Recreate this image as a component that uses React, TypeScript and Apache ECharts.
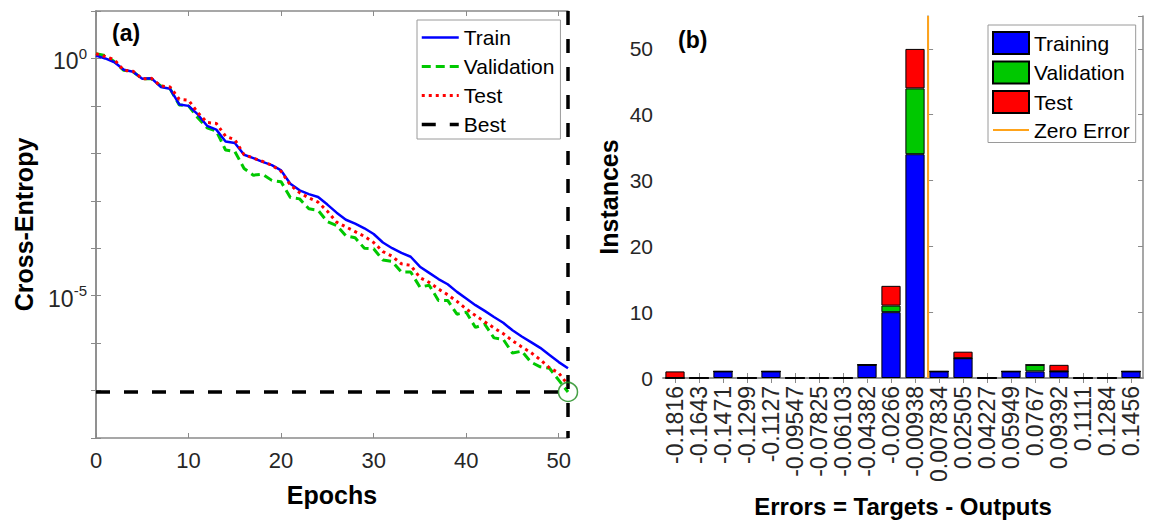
import React, { useEffect, useRef } from "react";
import * as echarts from "echarts";

// ---------- Panel (a): performance (log10 of cross-entropy per epoch) ----------
const trainLog = [0.06, 0.0, -0.08, -0.24, -0.28, -0.43, -0.42, -0.6, -0.64, -0.97, -1.0, -1.18, -1.42, -1.5, -1.75, -1.78, -2.03, -2.1, -2.18, -2.25, -2.36, -2.64, -2.78, -2.86, -2.92, -3.08, -3.25, -3.4, -3.48, -3.58, -3.7, -3.88, -4.0, -4.1, -4.18, -4.39, -4.52, -4.65, -4.76, -4.92, -5.06, -5.2, -5.32, -5.45, -5.57, -5.73, -5.86, -5.98, -6.1, -6.25, -6.4, -6.53];
const validationLog = [0.1, 0.06, -0.07, -0.25, -0.28, -0.43, -0.43, -0.58, -0.64, -0.98, -1.0, -1.25, -1.46, -1.53, -1.93, -1.96, -2.32, -2.46, -2.44, -2.57, -2.6, -2.93, -2.96, -3.17, -3.2, -3.44, -3.52, -3.74, -3.78, -4.0, -4.01, -4.25, -4.28, -4.5, -4.5, -4.82, -4.78, -5.1, -5.1, -5.39, -5.35, -5.67, -5.6, -5.89, -5.92, -6.21, -6.17, -6.4, -6.5, -6.53, -6.78, -7.03];
const testLog = [0.1, 0.04, -0.03, -0.25, -0.27, -0.43, -0.42, -0.58, -0.6, -0.86, -0.88, -1.14, -1.35, -1.37, -1.64, -1.71, -2.03, -2.1, -2.17, -2.25, -2.38, -2.67, -2.83, -2.94, -3.03, -3.22, -3.45, -3.55, -3.65, -3.75, -3.88, -4.07, -4.17, -4.33, -4.36, -4.62, -4.72, -4.86, -4.98, -5.12, -5.28, -5.42, -5.55, -5.68, -5.8, -5.95, -6.08, -6.2, -6.35, -6.52, -6.63, -6.88];
const bestEpoch = 51;
const bestLog = -7.03;
const epochMax = 51;
const logMin = 1e-8;
const logMax = 10;

// ---------- Panel (b): error histogram ----------
const binLabels = ["-0.1816", "-0.1643", "-0.1471", "-0.1299", "-0.1127", "-0.09547", "-0.07825", "-0.06103", "-0.04382", "-0.0266", "-0.00938", "0.007834", "0.02505", "0.04227", "0.05949", "0.0767", "0.09392", "0.1111", "0.1284", "0.1456"];
const trainingCounts = [0, 0, 1, 0, 1, 0, 0, 0, 2, 10, 34, 1, 3, 0, 1, 1, 1, 0, 0, 1];
const validationCounts = [0, 0, 0, 0, 0, 0, 0, 0, 0, 1, 10, 0, 0, 0, 0, 1, 0, 0, 0, 0];
const testCounts = [1, 0, 0, 0, 0, 0, 0, 0, 0, 3, 6, 0, 1, 0, 0, 0, 1, 0, 0, 0];
const zeroError = 0;
const instancesMax = 55;

const FONT = "'Liberation Sans', Arial, sans-serif";
const AXIS_GRAY = "#8a8a8a";
const TICK_TEXT = "#262626";

export default function App() {
  const ref = useRef<HTMLDivElement>(null);

  useEffect(() => {
    if (!ref.current) return;
    const chart = echarts.init(ref.current, null, { renderer: "svg" });

    const toPts = (arr: number[]) => arr.map((v, i) => [i, Math.pow(10, v)]);
    const bestVal = Math.pow(10, bestLog);

    const firstBin = parseFloat(binLabels[0]);
    const lastBin = parseFloat(binLabels[binLabels.length - 1]);
    const binW = (lastBin - firstBin) / (binLabels.length - 1);

    const axisLine = { show: true, lineStyle: { color: AXIS_GRAY, width: 1.5 } };
    const tickIn = { show: true, inside: true, length: 5, lineStyle: { color: AXIS_GRAY, width: 1 } };
    const noSymbol = { opacity: 0 };

    const option: any = {
      animation: false,
      backgroundColor: "#fff",
      textStyle: { fontFamily: FONT },
      grid: [
        { left: 96, top: 11, width: 472, height: 427 },
        { left: 663, top: 16, width: 480, height: 367 },
      ],
      xAxis: [
        {
          gridIndex: 0, type: "value", min: 0, max: epochMax, interval: 10, position: "bottom",
          axisLine, axisTick: tickIn, splitLine: { show: false },
          axisLabel: { fontSize: 22, color: TICK_TEXT, margin: 11, showMaxLabel: false, fontFamily: FONT },
          name: "Epochs", nameLocation: "middle", nameGap: 44,
          nameTextStyle: { fontSize: 25, fontWeight: "bold", color: "#000", fontFamily: FONT },
        },
        {
          gridIndex: 0, type: "value", min: 0, max: epochMax, interval: 10, position: "top",
          axisLine, axisTick: tickIn, splitLine: { show: false }, axisLabel: { show: false },
        },
        {
          gridIndex: 1, type: "category", data: binLabels, position: "bottom",
          axisLine, axisTick: { ...tickIn, alignWithLabel: true, interval: 0 },
          axisLabel: { rotate: 90, interval: 0, fontSize: 23, color: TICK_TEXT, margin: 8, fontFamily: FONT },
          name: "Errors = Targets - Outputs", nameLocation: "middle", nameGap: 116,
          nameTextStyle: { fontSize: 24, fontWeight: "bold", color: "#000", fontFamily: FONT },
        },
        {
          gridIndex: 1, type: "category", data: binLabels, position: "top",
          axisLine, axisTick: { ...tickIn, alignWithLabel: true, interval: 0 }, axisLabel: { show: false },
        },
        {
          gridIndex: 1, type: "value", min: firstBin - binW / 2, max: lastBin + binW / 2, show: false,
        },
      ],
      yAxis: [
        {
          gridIndex: 0, type: "log", logBase: 10, min: logMin, max: logMax, position: "left",
          axisLine, axisTick: tickIn, splitLine: { show: false }, minorTick: { show: false },
          axisLabel: {
            margin: 9,
            formatter: (v: number) => {
              const l = Math.log10(v);
              const e = Math.round(l);
              if (Math.abs(l - e) > 1e-6) return "";
              if (e === 0) return "{b|10}{s|0}";
              if (e === -5) return "{b|10}{s|-5}";
              return "";
            },
            rich: {
              b: { fontSize: 23, color: TICK_TEXT, fontFamily: FONT, padding: [6, 0, 0, 0] },
              s: { fontSize: 15, color: TICK_TEXT, fontFamily: FONT, padding: [0, 0, 10, 0] },
            },
          },
          name: "Cross-Entropy", nameLocation: "middle", nameGap: 60,
          nameTextStyle: { fontSize: 25, fontWeight: "bold", color: "#000", fontFamily: FONT },
        },
        {
          gridIndex: 0, type: "log", logBase: 10, min: logMin, max: logMax, position: "right",
          axisLine, axisTick: tickIn, splitLine: { show: false }, axisLabel: { show: false },
        },
        {
          gridIndex: 1, type: "value", min: 0, max: instancesMax, interval: 10, position: "left",
          axisLine, axisTick: tickIn, splitLine: { show: false },
          axisLabel: { fontSize: 21, color: TICK_TEXT, margin: 10, showMaxLabel: false, fontFamily: FONT },
          name: "Instances", nameLocation: "middle", nameGap: 42,
          nameTextStyle: { fontSize: 25, fontWeight: "bold", color: "#000", fontFamily: FONT },
        },
        {
          gridIndex: 1, type: "value", min: 0, max: instancesMax, interval: 10, position: "right",
          axisLine, axisTick: tickIn, splitLine: { show: false }, axisLabel: { show: false },
        },
      ],
      legend: [
        {
          data: ["Train", "Validation", "Test", "Best"],
          orient: "vertical", left: 417, top: 20,
          itemWidth: 37, itemHeight: 14, itemGap: 8,
          itemStyle: noSymbol,
          lineStyle: { width: "inherit" },
          textStyle: { fontSize: 21, color: "#000", fontFamily: FONT, lineHeight: 20 },
          borderColor: "#9a9a9a", borderWidth: 1, borderRadius: 0, backgroundColor: "#fff",
          padding: [7, 6, 4, 3],
        },
        {
          data: [
            { name: "Training", icon: "rect" },
            { name: "Validation_b", icon: "rect" },
            { name: "Test_b", icon: "rect" },
            { name: "Zero Error", itemStyle: noSymbol },
          ],
          formatter: (n: string) => n.replace("_b", ""),
          orient: "vertical", left: 988, top: 25,
          itemWidth: 36, itemHeight: 22, itemGap: 5.5,
          lineStyle: { width: "inherit" },
          textStyle: { fontSize: 21, color: "#000", fontFamily: FONT },
          borderColor: "#9a9a9a", borderWidth: 1, borderRadius: 0, backgroundColor: "#fff",
          padding: [6, 6, 2, 4],
        },
      ],
      graphic: [
        { type: "text", left: 112, top: 21, style: { text: "(a)", font: `bold 23px ${FONT}`, fill: "#000" } },
        { type: "text", left: 678, top: 28, style: { text: "(b)", font: `bold 23px ${FONT}`, fill: "#000" } },
      ],
      series: [
        {
          name: "Train", type: "line", xAxisIndex: 0, yAxisIndex: 0, data: toPts(trainLog),
          symbol: "none", color: "#0000ff", lineStyle: { color: "#0000ff", width: 2.5 }, z: 4,
        },
        {
          name: "Validation", type: "line", xAxisIndex: 0, yAxisIndex: 0, data: toPts(validationLog),
          symbol: "none", color: "#00c800", lineStyle: { color: "#00c800", width: 3, type: [9, 5] }, z: 3,
        },
        {
          name: "Test", type: "line", xAxisIndex: 0, yAxisIndex: 0, data: toPts(testLog),
          symbol: "none", color: "#ff0000", lineStyle: { color: "#ff0000", width: 3, type: [3, 4] }, z: 5,
        },
        {
          name: "Best", type: "line", xAxisIndex: 0, yAxisIndex: 0,
          data: [[0, bestVal], [bestEpoch, bestVal]], clip: false,
          symbol: "none", color: "#000", lineStyle: { color: "#000", width: 3.5, type: [14, 14] }, z: 6,
        },
        {
          name: "Best", type: "line", xAxisIndex: 0, yAxisIndex: 0,
          data: [[bestEpoch, logMax], [bestEpoch, logMin]], clip: false,
          symbol: "none", color: "#000", lineStyle: { color: "#000", width: 3.5, type: [14, 14] }, z: 6,
        },
        {
          name: "BestPoint", type: "scatter", xAxisIndex: 0, yAxisIndex: 0,
          data: [[bestEpoch, bestVal]], symbol: "circle", symbolSize: 19, clip: false,
          itemStyle: { color: "rgba(0,0,0,0)", borderColor: "#1a8a1a", borderWidth: 1.5 }, z: 7,
        },
        {
          name: "Training", type: "bar", xAxisIndex: 2, yAxisIndex: 2, stack: "hist", data: trainingCounts,
          barWidth: "80%", color: "#0000ff", itemStyle: { color: "#0000ff", borderColor: "#000", borderWidth: 1 },
        },
        {
          name: "Validation_b", type: "bar", xAxisIndex: 2, yAxisIndex: 2, stack: "hist", data: validationCounts,
          barWidth: "80%", color: "#00c800", itemStyle: { color: "#00c800", borderColor: "#000", borderWidth: 1 },
        },
        {
          name: "Test_b", type: "bar", xAxisIndex: 2, yAxisIndex: 2, stack: "hist", data: testCounts,
          barWidth: "80%", color: "#ff0000", itemStyle: { color: "#ff0000", borderColor: "#000", borderWidth: 1 },
        },
        {
          name: "Zero Error", type: "line", xAxisIndex: 4, yAxisIndex: 2,
          data: [[zeroError, 0], [zeroError, instancesMax]], symbol: "none",
          color: "#ffa31a", lineStyle: { color: "#ffa31a", width: 2 }, z: 5,
        },
      ],
    };

    chart.setOption(option);
    return () => chart.dispose();
  }, []);

  return (
    <div
      ref={ref}
      style={{ position: "absolute", left: 0, top: 0, width: 1152, height: 523, background: "#fff" }}
    />
  );
}
